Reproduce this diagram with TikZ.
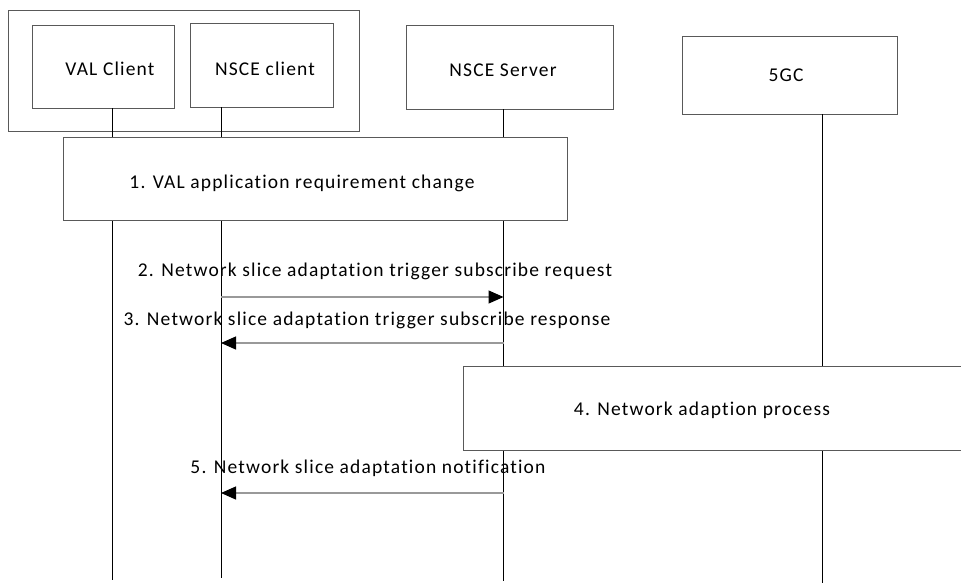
\documentclass[tikz,border=0pt]{standalone}
\usepackage{fontspec}
\setmainfont[LetterSpace=6,Ligatures={NoCommon}]{Carlito}
\usetikzlibrary{arrows.meta,positioning}
\tikzstyle{block} = [draw=black!65, rectangle, fill=white, inner sep=0pt, line width=0.9pt]
\tikzstyle{txt} = [anchor=base, inner sep=0pt, font=\fontsize{19.5}{22}\selectfont]
\tikzstyle{life} = [draw=black, line width=0.9pt]
\tikzstyle{msg} = [draw=black!40, line width=1.3pt, -{Triangle[length=15pt,width=13pt,color=black]}]

\begin{document}
\begin{tikzpicture}[x=1pt,y=-1pt]
    \useasboundingbox (0,0) rectangle (961,584);
    % UE with its two clients
    \node [block, minimum width=351pt, minimum height=121pt] (ue) at (183.5,70.5) {};
    \node [block, minimum width=142pt, minimum height=83pt] (valc) at (103,66.5) {};
    \node [block, minimum width=143pt, minimum height=84pt] (nscec) at (261.5,65) {};
    \node [block, minimum width=207pt, minimum height=84pt] (server) at (509.5,67) {};
    \node [block, minimum width=215pt, minimum height=78pt] (fivegc) at (789.5,75) {};
    \node [txt] (valt) at (110,75) {VAL Client};
    \node [txt] (nscect) at (265,75) {NSCE client};
    \node [txt] (servert) at (503,76.5) {NSCE Server};
    \node [txt] (fivegct) at (786,81) {5GC};

    % lifelines
    \coordinate (valend) at (112,580);
    \coordinate (cliend) at (221,578);
    \coordinate (srvend) at (503.5,581);
    \coordinate (cnend) at (822,583);
    \draw [life] (valc.south -| valend) -- (valend);
    \draw [life] (nscec.south -| cliend) -- (cliend);
    \draw [life] (server.south -| srvend) -- (srvend);
    \draw [life] (fivegc.south -| cnend) -- (cnend);

    % steps
    \node [block, minimum width=504pt, minimum height=83pt] (step1) at (315,178.5) {};
    \node [txt] (step1t) at (302,188.3) {1. VAL application requirement change};
    \node [block, minimum width=507pt, minimum height=84pt] (step4) at (716.5,408) {};
    \node [txt] (step4t) at (702,415) {4. Network adaption process};

    % messages
    \node [txt] (m2) at (375,276.7) {2. Network slice adaptation trigger subscribe request};
    \coordinate (m2a) at (221,297);
    \coordinate (m2b) at (503.5,297);
    \draw [msg] (m2a) -- (m2b);
    \node [txt] (m3) at (367,325) {3. Network slice adaptation trigger subscribe response};
    \coordinate (m3a) at (503.5,343);
    \coordinate (m3b) at (221,343);
    \draw [msg] (m3a) -- (m3b);
    \node [txt] (m5) at (368,473) {5. Network slice adaptation notification};
    \coordinate (m5a) at (503.5,493);
    \coordinate (m5b) at (221,493);
    \draw [msg] (m5a) -- (m5b);
\end{tikzpicture}
\end{document}
